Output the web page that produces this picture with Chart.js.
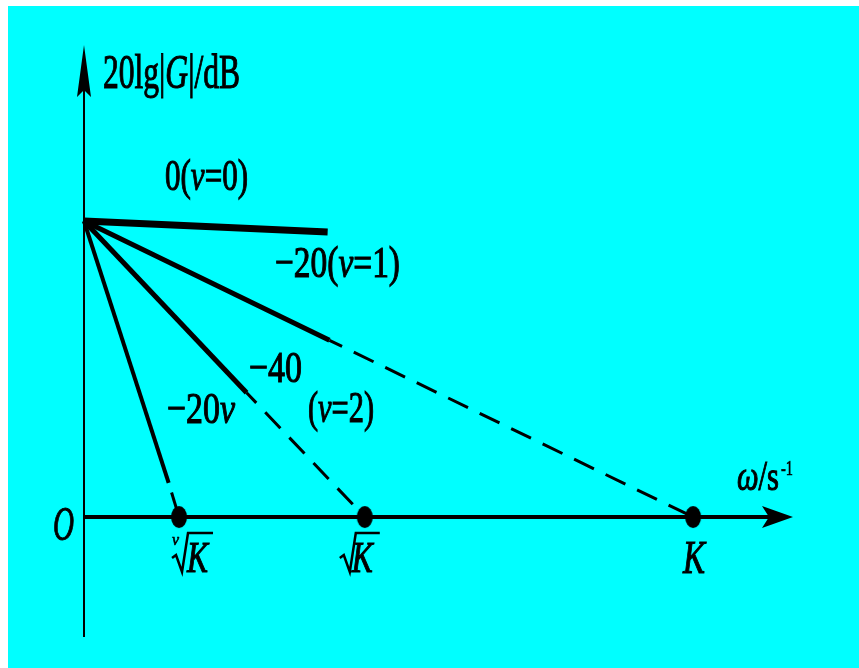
<!DOCTYPE html>
<html>
<head>
<meta charset="utf-8">
<script src="https://cdn.jsdelivr.net/npm/chart.js@4"></script>
<style>
  body { margin: 0; background: #fff; }
  #wrap { width: 859px; height: 668px; position: relative; }
</style>
</head>
<body>
<div id="wrap"><canvas id="c"></canvas></div>
<script>
// Asymptotic Bode magnitude sketch, type 0 / 1 / 2 / v systems
// break points on the omega axis (arbitrary units, K = 10)
const breakNames = ['νK', '√K', 'K'];
const breakX = [1.56, 4.61, 10];
const startGain = 20;

// solid parts of each asymptote
const lineV0 = [{ x: 0, y: 20 }, { x: 4.0, y: 19.26 }];
const lineV1 = [{ x: 0, y: 20 }, { x: 4.03, y: 11.94 }];
const lineV2 = [{ x: 0, y: 20 }, { x: 2.67, y: 8.4 }];
const lineVn = [{ x: 0, y: 20 }, { x: 1.39, y: 2.3 }];
// dashed continuations down to 0 dB
const dashV1 = [{ x: 4.03, y: 11.94 }, { x: 10, y: 0 }];
const dashV2 = [{ x: 2.67, y: 8.4 }, { x: 4.61, y: 0 }];
const dashVn = [{ x: 1.39, y: 2.3 }, { x: 1.56, y: 0 }];

const slopeTexts = ['0(ν=0)', '−20(ν=1)', '−40', '(ν=2)', '−20ν'];
const yTitle = '20lg|G|/dB';
const xTitle = 'ω/s';
const originText = 'O';

const SERIF = '"Liberation Serif", "Times New Roman", serif';
const ITALIC_CHARS = 'νGKωO';

// draw a string with italic letters, squeezed to a given width
function drawRich(ctx, text, x, base, size, width) {
    const runs = [];
    for (const ch of text) {
        const it = ITALIC_CHARS.includes(ch);
        if (runs.length && runs[runs.length - 1].it === it) runs[runs.length - 1].t += ch;
        else runs.push({ t: ch, it });
    }
    let total = 0;
    runs.forEach(r => {
        ctx.font = (r.it ? 'italic ' : '') + size + 'px ' + SERIF;
        r.w = ctx.measureText(r.t).width;
        total += r.w;
    });
    const sx = width ? width / total : 1;
    ctx.save();
    ctx.translate(x, base);
    ctx.scale(sx, 1);
    ctx.lineWidth = size > 30 ? 1.1 : 0.6;
    let cx = 0;
    runs.forEach(r => {
        ctx.font = (r.it ? 'italic ' : '') + size + 'px ' + SERIF;
        ctx.fillText(r.t, cx, 0);
        ctx.strokeText(r.t, cx, 0);
        cx += r.w;
    });
    ctx.restore();
}

function radical(ctx, x, base, w) {
    ctx.save();
    ctx.lineWidth = 2.5;
    ctx.beginPath();
    ctx.moveTo(x, base - 14);
    ctx.lineTo(x + 4, base - 17);
    ctx.lineTo(x + 10, base);
    ctx.lineTo(x + 16, base - 39);
    ctx.lineTo(x + w, base - 39);
    ctx.stroke();
    ctx.restore();
}

// elongated dot marker
const dot = document.createElement('canvas');
dot.width = 18; dot.height = 24;
(function () {
    const d = dot.getContext('2d');
    d.fillStyle = '#000';
    d.beginPath();
    d.ellipse(9, 12, 8, 11, 0, 0, Math.PI * 2);
    d.fill();
})();

const bgPlugin = {
    id: 'bg',
    beforeDraw(chart) {
        const ctx = chart.ctx;
        ctx.save();
        ctx.fillStyle = '#ffffff';
        ctx.fillRect(0, 0, chart.width, chart.height);
        ctx.fillStyle = '#00ffff';
        ctx.fillRect(8, 6, chart.width - 8, chart.height - 6);
        ctx.restore();
    }
};

const axesPlugin = {
    id: 'axes',
    beforeDatasetsDraw(chart) {
        const ctx = chart.ctx, xs = chart.scales.x, ys = chart.scales.y;
        const x0 = xs.getPixelForValue(0), y0 = ys.getPixelForValue(0);
        const top = chart.chartArea.top, bottom = chart.chartArea.bottom, right = chart.chartArea.right;
        ctx.save();
        ctx.strokeStyle = '#000';
        ctx.fillStyle = '#000';
        // vertical axis
        ctx.lineWidth = 2;
        ctx.beginPath();
        ctx.moveTo(x0, bottom);
        ctx.lineTo(x0, top + 20);
        ctx.stroke();
        ctx.beginPath();
        ctx.moveTo(x0, top);
        ctx.lineTo(x0 - 7, top + 52);
        ctx.lineTo(x0, top + 45);
        ctx.lineTo(x0 + 7, top + 52);
        ctx.closePath();
        ctx.fill();
        // horizontal axis
        ctx.lineWidth = 4;
        ctx.beginPath();
        ctx.moveTo(x0, y0);
        ctx.lineTo(right - 20, y0);
        ctx.stroke();
        ctx.beginPath();
        ctx.moveTo(right, y0);
        ctx.lineTo(right - 31, y0 - 11);
        ctx.lineTo(right - 24, y0);
        ctx.lineTo(right - 31, y0 + 11);
        ctx.closePath();
        ctx.fill();
        ctx.restore();
    },
    afterDatasetsDraw(chart) {
        const ctx = chart.ctx, xs = chart.scales.x, ys = chart.scales.y;
        const y0 = ys.getPixelForValue(0);
        ctx.save();
        ctx.fillStyle = '#000';
        ctx.strokeStyle = '#000';
        ctx.textBaseline = 'alphabetic';
        drawRich(ctx, yTitle, 103, 88, 48, 137);
        drawRich(ctx, slopeTexts[0], 165, 190, 44, 83);
        drawRich(ctx, slopeTexts[1], 275, 277, 44, 125);
        drawRich(ctx, slopeTexts[2], 249, 382, 44, 53);
        drawRich(ctx, slopeTexts[3], 308, 422, 44, 66);
        drawRich(ctx, slopeTexts[4], 167, 423, 44, 68);
        drawRich(ctx, originText, 53, y0 + 23, 48, 21);
        // omega axis title with superscript
        drawRich(ctx, xTitle, 737, 490, 42, 42);
        drawRich(ctx, '-1', 781, 475, 22, 12);
        // break point labels
        const px = breakX.map(v => xs.getPixelForValue(v));
        const base = y0 + 55;
        radical(ctx, px[0] - 7, base, 41);
        drawRich(ctx, 'ν', px[0] - 7, base - 27, 16, 7);
        drawRich(ctx, 'K', px[0] + 8, base, 44, 21);
        radical(ctx, px[1] - 25, base, 40);
        drawRich(ctx, 'K', px[1] - 13, base, 44, 21);
        drawRich(ctx, 'K', px[2] - 10, base + 1, 46, 22);
        ctx.restore();
    }
};

const solid = (data, w) => ({
    data, showLine: true, borderColor: '#000', borderWidth: w,
    pointRadius: 0, clip: false, borderCapStyle: 'butt'
});
const dashed = (data, offset) => ({
    data, showLine: true, borderColor: '#000', borderWidth: 3,
    borderDash: [22, 13], borderDashOffset: offset || 0, pointRadius: 0, clip: false
});

new Chart(document.getElementById('c'), {
    type: 'scatter',
    data: {
        datasets: [
            solid(lineV0, 7),
            solid(lineV1, 5),
            solid(lineV2, 5),
            solid(lineVn, 4),
            dashed(dashV1, 8),
            dashed(dashV2, 8),
            dashed(dashVn, 25),
            {
                data: breakX.map(x => ({ x, y: 0 })),
                showLine: false,
                pointStyle: dot,
                pointRadius: 9,
                clip: false
            }
        ]
    },
    options: {
        responsive: true,
        maintainAspectRatio: false,
        animation: false,
        layout: { padding: { left: 84, right: 66, top: 45, bottom: 31 } },
        scales: {
            x: { type: 'linear', display: false, min: 0, max: 11.64 },
            y: { type: 'linear', display: false, min: -8.11, max: 31.9 }
        },
        plugins: {
            legend: { display: false },
            tooltip: { enabled: false }
        }
    },
    plugins: [bgPlugin, axesPlugin]
});
</script>
</body>
</html>
